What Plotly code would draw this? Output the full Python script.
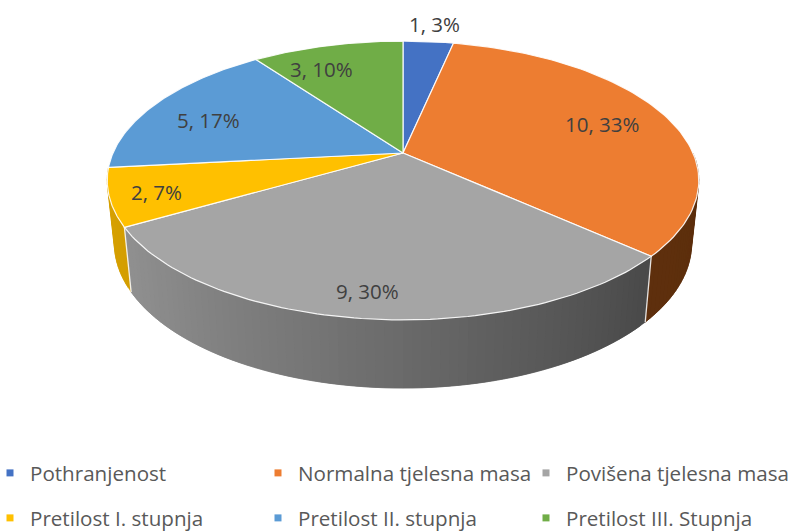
import numpy as np
import plotly.graph_objects as go

categories = ["Pothranjenost", "Normalna tjelesna masa", "Povišena tjelesna masa",
              "Pretilost I. stupnja", "Pretilost II. stupnja", "Pretilost III. Stupnja"]
values = [1, 10, 9, 2, 5, 3]
percent_labels = ["3%", "33%", "30%", "7%", "17%", "10%"]
top_colors = ["#4472c4", "#ed7d31", "#a5a5a5", "#ffc000", "#5b9bd5", "#70ad47"]
dark_side = [(47, 80, 137), (92, 46, 12), (62, 62, 62), (176, 132, 0), (64, 108, 148), (78, 120, 50)]
light_side = [(68, 114, 196), (112, 58, 18), (150, 150, 150), (214, 160, 0), (91, 155, 213), (112, 173, 71)]
label_radius = [1.2, 0.75, 0.86, 0.87, 0.74, 0.72]
label_shift_x = [2, 1, -4, 7, -9, -25]
label_shift_y = [0, -1, 0, -1, -5, 3]
legend_columns = [0, 1, 2, 0, 1, 2]
legend_rows = [0, 0, 0, 1, 1, 1]

W, H = 793, 531
K = 0.197
WALL_FROM, WALL_TO = np.radians(90), np.radians(264)


def project(theta, r, x0, y0, a, b):
    u, v = r * np.sin(theta), r * np.cos(theta)
    d = 1 + K * v
    return x0 + b * u / d, y0 - a * v / d


def top(theta, r=1.0):
    return project(theta, r, 403, 153, 134, 290)


def bottom(theta, r=1.0):
    return project(theta, r, 403, 215, 139, 283)


total = sum(values)
edges = 2 * np.pi * np.concatenate([[0], np.cumsum(values)]) / total
fig = go.Figure()

# side wall: overlapping bands painted in angular order give a smooth shade
for i in range(len(values)):
    lo, hi = max(edges[i], WALL_FROM), min(edges[i + 1], WALL_TO)
    if hi <= lo + 1e-6:
        continue
    n = max(int(np.degrees(hi - lo) / 1.5), 2)
    t = np.linspace(lo, hi, n + 1)
    step = t[1] - t[0]
    for a0 in t[:-1]:
        a1 = min(a0 + 2 * step, hi)
        xt, yt = top(np.array([a0, a1]))
        xb, yb = bottom(np.array([a1, a0]))
        shade = (np.sin(a0 + step / 2) + 1) / 2
        c = [int(round(l + (d - l) * shade)) for l, d in zip(light_side[i], dark_side[i])]
        col = f"rgb({c[0]},{c[1]},{c[2]})"
        fig.add_trace(go.Scatter(
            x=list(xt) + list(xb), y=list(yt) + list(yb), fill="toself", fillcolor=col,
            mode="lines", line=dict(color=col, width=0.5), hoverinfo="skip", showlegend=False))
    if edges[i] >= WALL_FROM:
        xs0, ys0 = top(edges[i])
        xs1, ys1 = bottom(edges[i])
        fig.add_trace(go.Scatter(x=[xs0, xs1], y=[ys0, ys1], mode="lines",
                                 line=dict(color="rgba(255,255,255,0.85)", width=1.3),
                                 hoverinfo="skip", showlegend=False))

# top face
for i in range(len(values)):
    t = np.linspace(edges[i], edges[i + 1], 90)
    xr, yr = top(t)
    cx, cy = top(0.0, 0.0)
    fig.add_trace(go.Scatter(
        x=[cx] + list(xr) + [cx], y=[cy] + list(yr) + [cy], fill="toself", fillcolor=top_colors[i],
        mode="lines", line=dict(color="rgba(255,255,255,0.9)", width=1.2),
        hoverinfo="skip", showlegend=False))

# data labels
for i, (v, p) in enumerate(zip(values, percent_labels)):
    mid = (edges[i] + edges[i + 1]) / 2
    lx, ly = top(mid, label_radius[i])
    fig.add_annotation(x=lx, y=ly, text=f"{v}, {p}", showarrow=False,
                       xshift=label_shift_x[i], yshift=label_shift_y[i],
                       font=dict(family="Open Sans", size=20.5, color="#404040"))

# one single-entry legend per series, laid out on a 3 x 2 grid
legend_layout = {}
for i, name in enumerate(categories):
    key = "legend" if i == 0 else f"legend{i + 1}"
    fig.add_trace(go.Scatter(
        x=[None], y=[None], mode="markers", name=name,
        marker=dict(symbol="square", size=7, color=top_colors[i]), legend=key))
    legend_layout[key] = dict(
        orientation="v", xanchor="left", yanchor="middle",
        x=(-10 + 268 * legend_columns[i]) / W,
        y=1 - (473 + 45 * legend_rows[i]) / H,
        bgcolor="rgba(0,0,0,0)",
        font=dict(family="Open Sans", size=20.6, color="#595959"),
        itemclick=False, itemdoubleclick=False)

fig.update_layout(
    width=W, height=H, margin=dict(l=0, r=0, t=0, b=0, autoexpand=False), autosize=False,
    paper_bgcolor="white", plot_bgcolor="white",
    xaxis=dict(range=[0, W], visible=False, fixedrange=True),
    yaxis=dict(range=[H, 0], visible=False, fixedrange=True),
    showlegend=True,
    **legend_layout,
)
fig.write_html("out.html", config={"displayModeBar": False},
               post_script="document.body.style.margin='0';")
